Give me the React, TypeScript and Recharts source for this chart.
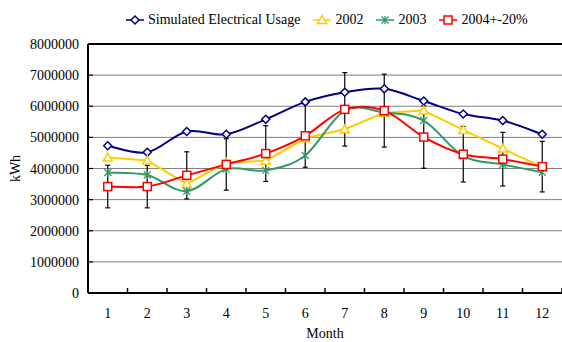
import { CartesianGrid, ErrorBar, Line, LineChart, ReferenceLine, XAxis, YAxis } from "recharts";

const months = [1, 2, 3, 4, 5, 6, 7, 8, 9, 10, 11, 12];
const simulated = [4730000, 4520000, 5190000, 5100000, 5580000, 6140000, 6450000, 6560000, 6170000, 5750000, 5540000, 5100000];
const usage2002 = [4350000, 4260000, 3500000, 4190000, 4250000, 4970000, 5260000, 5790000, 5860000, 5240000, 4640000, 4040000];
const usage2003 = [3870000, 3790000, 3270000, 3980000, 3940000, 4420000, 5860000, 5800000, 5540000, 4400000, 4130000, 3880000];
const usage2004 = [3420000, 3420000, 3780000, 4130000, 4480000, 5050000, 5900000, 5860000, 5010000, 4460000, 4300000, 4060000];
const yTicks = [0, 1000000, 2000000, 3000000, 4000000, 5000000, 6000000, 7000000, 8000000];

const FONT = '"Liberation Serif", "Times New Roman", serif';

const rows = months.map((month, i) => ({
  month,
  sim: simulated[i],
  y2002: usage2002[i],
  y2003: usage2003[i],
  y2004: usage2004[i],
  err2004: usage2004[i] * 0.2,
}));

// label ticks at each month, short marks on the boundaries between months
const xTicks = [months[0] - 0.5, ...months.flatMap((m) => [m, m + 0.5])];

// Excel-style smoothed line (uniform Catmull-Rom through every point)
function smoothCurve(context: any) {
  let pts: [number, number][] = [];
  return {
    areaStart() {},
    areaEnd() {},
    lineStart() {
      pts = [];
    },
    point(x: number, y: number) {
      pts.push([+x, +y]);
    },
    lineEnd() {
      if (!pts.length) return;
      context.moveTo(pts[0][0], pts[0][1]);
      for (let i = 0; i < pts.length - 1; i++) {
        const p0 = pts[Math.max(i - 1, 0)];
        const p1 = pts[i];
        const p2 = pts[i + 1];
        const p3 = pts[Math.min(i + 2, pts.length - 1)];
        context.bezierCurveTo(
          p1[0] + (p2[0] - p0[0]) / 6,
          p1[1] + (p2[1] - p0[1]) / 6,
          p2[0] - (p3[0] - p1[0]) / 6,
          p2[1] - (p3[1] - p1[1]) / 6,
          p2[0],
          p2[1]
        );
      }
    },
  };
}

type Shape = "diamond" | "triangle" | "star" | "square";

const series: { key: string; name: string; color: string; shape: Shape; smooth: boolean }[] = [
  { key: "sim", name: "Simulated Electrical Usage", color: "#000080", shape: "diamond", smooth: true },
  { key: "y2002", name: "2002", color: "#FFCC00", shape: "triangle", smooth: false },
  { key: "y2003", name: "2003", color: "#339966", shape: "star", smooth: true },
  { key: "y2004", name: "2004+-20%", color: "#FF0000", shape: "square", smooth: true },
];

function Marker({ cx, cy, shape, color }: { cx: number; cy: number; shape: Shape; color: string }) {
  if (cx == null || cy == null) return null;
  if (shape === "diamond") {
    return (
      <polygon
        points={`${cx},${cy - 4} ${cx + 4},${cy} ${cx},${cy + 4} ${cx - 4},${cy}`}
        fill="#fff"
        stroke={color}
        strokeWidth={1.5}
      />
    );
  }
  if (shape === "triangle") {
    return (
      <polygon
        points={`${cx},${cy - 4.5} ${cx + 4.5},${cy + 3.5} ${cx - 4.5},${cy + 3.5}`}
        fill="#fff"
        stroke={color}
        strokeWidth={1.5}
      />
    );
  }
  if (shape === "star") {
    const r = 3.5;
    return (
      <g stroke={color} strokeWidth={1.3}>
        <line x1={cx - r} y1={cy - r} x2={cx + r} y2={cy + r} />
        <line x1={cx - r} y1={cy + r} x2={cx + r} y2={cy - r} />
        <line x1={cx} y1={cy - r - 0.5} x2={cx} y2={cy + r + 0.5} />
      </g>
    );
  }
  return <rect x={cx - 4} y={cy - 4} width={8} height={8} fill="#fff" stroke={color} strokeWidth={1.5} />;
}

function XTick({ x, y, payload }: any) {
  const v = payload.value;
  if (Number.isInteger(v)) {
    return (
      <text x={x} y={y + 24.5} textAnchor="middle" fontSize={14} fontFamily={FONT} fill="#000">
        {v}
      </text>
    );
  }
  return <line x1={x} y1={y} x2={x} y2={y - 5} stroke="#000" strokeWidth={1.5} />;
}

function YTick({ x, y, payload }: any) {
  return (
    <g>
      <line x1={x} y1={y} x2={x + 5} y2={y} stroke="#000" strokeWidth={1.2} />
      <text x={x - 9} y={y + 5} textAnchor="end" fontSize={14} fontFamily={FONT} fill="#000">
        {String(payload.value)}
      </text>
    </g>
  );
}

function LegendRow() {
  return (
    <div
      style={{
        position: "absolute",
        left: 126,
        top: 12,
        display: "flex",
        alignItems: "center",
        height: 16,
        fontSize: 14,
        fontFamily: FONT,
        whiteSpace: "nowrap",
      }}
    >
      {series.map((s) => (
        <div key={s.key} style={{ display: "flex", alignItems: "center", marginRight: 13 }}>
          <svg width={18} height={12} style={{ display: "block" }}>
            <line x1={0} y1={6} x2={18} y2={6} stroke={s.color} strokeWidth={1.5} />
            <Marker cx={9} cy={6} shape={s.shape} color={s.color} />
          </svg>
          <span style={{ marginLeft: 4 }}>{s.name}</span>
        </div>
      ))}
    </div>
  );
}

export default function App() {
  return (
    <div
      style={{
        position: "fixed",
        left: 0,
        top: 0,
        width: 562,
        height: 342,
        overflow: "hidden",
        background: "#fff",
        fontFamily: FONT,
      }}
    >
      <LegendRow />
      <LineChart width={580} height={342} data={rows} margin={{ top: 44, right: 18, bottom: 0, left: 0 }}>
        <CartesianGrid vertical={false} stroke="#808080" strokeWidth={1} />
        <ReferenceLine y={yTicks[yTicks.length - 1]} stroke="#000" strokeWidth={2} />
        <XAxis
          type="number"
          dataKey="month"
          domain={[months[0] - 0.5, months[months.length - 1] + 0.5]}
          ticks={xTicks}
          interval={0}
          height={49}
          tickSize={0}
          tickMargin={0}
          tickLine={false}
          tick={<XTick />}
          axisLine={{ stroke: "#000", strokeWidth: 2 }}
          label={{
            content: ({ viewBox }: any) => (
              <text
                x={viewBox.x + viewBox.width / 2}
                y={337.5}
                textAnchor="middle"
                fontSize={14}
                fontFamily={FONT}
                fill="#000"
              >
                Month
              </text>
            ),
          }}
        />
        <YAxis
          type="number"
          domain={[yTicks[0], yTicks[yTicks.length - 1]]}
          ticks={yTicks}
          interval={0}
          width={88}
          tickSize={0}
          tickMargin={0}
          tickLine={false}
          tick={<YTick />}
          axisLine={{ stroke: "#000", strokeWidth: 2 }}
          label={{
            content: ({ viewBox }: any) => {
              const cy = viewBox.y + viewBox.height / 2;
              return (
                <text
                  x={20}
                  y={cy}
                  transform={`rotate(-90 20 ${cy})`}
                  textAnchor="middle"
                  fontSize={14}
                  fontFamily={FONT}
                  fill="#000"
                >
                  kWh
                </text>
              );
            },
          }}
        />
        {series.map((s) => (
          <Line
            key={s.key}
            dataKey={s.key}
            name={s.name}
            type={s.smooth ? (smoothCurve as any) : "linear"}
            stroke={s.color}
            strokeWidth={2}
            isAnimationActive={false}
            activeDot={false}
            dot={(p: any) => <Marker key={`${s.key}-${p.index}`} cx={p.cx} cy={p.cy} shape={s.shape} color={s.color} />}
          >
            {s.key === "y2004" && (
              <ErrorBar dataKey="err2004" direction="y" width={2.5} stroke="#000" strokeWidth={1.2} isAnimationActive={false} />
            )}
          </Line>
        ))}
      </LineChart>
    </div>
  );
}
